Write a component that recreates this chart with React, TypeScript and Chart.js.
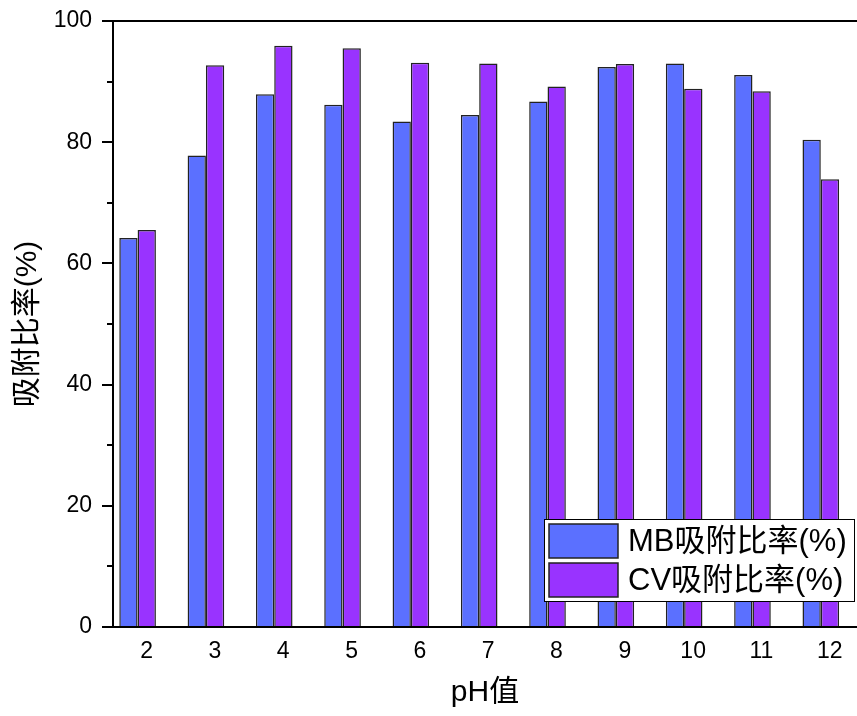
import { useEffect, useRef } from "react";
import { Chart, registerables } from "chart.js";

Chart.register(...registerables);

// pH values tested and adsorption ratios for each dye
const phValues = [2, 3, 4, 5, 6, 7, 8, 9, 10, 11, 12];
const mbRates = [64.2, 77.8, 87.9, 86.2, 83.4, 84.5, 86.7, 92.4, 93.0, 91.1, 80.4];
const cvRates = [65.5, 92.7, 95.9, 95.5, 93.1, 93.0, 89.2, 92.9, 88.8, 88.4, 73.9];
const seriesNames = ["MB吸附比率(%)", "CV吸附比率(%)"];
const seriesColors = ["#5B70FF", "#9933FF"];
const yMajorTicks = [0, 20, 40, 60, 80, 100];
const yMinorTicks = [10, 30, 50, 70, 90];
const xTitle = "pH值";
const yTitle = "吸附比率(%)";

const FONT = "'Liberation Sans', Arial, 'Noto Sans CJK SC', sans-serif";

// Draws the axis frame and outward tick marks on the y axis
const framePlugin = {
  id: "frame",
  afterDraw(chart: any) {
    const { ctx, chartArea } = chart;
    const { left, top, right, bottom } = chartArea;
    const y = chart.scales.y;
    ctx.save();
    ctx.strokeStyle = "#000";
    ctx.lineWidth = 2;
    ctx.beginPath();
    ctx.moveTo(left, bottom + 1);
    ctx.lineTo(left, top);
    ctx.moveTo(left - 1, top);
    ctx.lineTo(right + 2, top);
    ctx.moveTo(left - 1, bottom);
    ctx.lineTo(right + 2, bottom);
    ctx.stroke();
    ctx.beginPath();
    yMajorTicks.forEach((v) => {
      const py = Math.round(y.getPixelForValue(v));
      ctx.moveTo(left - 11, py);
      ctx.lineTo(left, py);
    });
    yMinorTicks.forEach((v) => {
      const py = Math.round(y.getPixelForValue(v));
      ctx.moveTo(left - 6, py);
      ctx.lineTo(left, py);
    });
    ctx.stroke();
    ctx.restore();
  },
};

// Boxed legend in the lower right of the plot
const legendBoxPlugin = {
  id: "legendBox",
  afterDraw(chart: any) {
    const { ctx } = chart;
    const bx = 544;
    const by = 519;
    const bw = 310;
    const bh = 82;
    ctx.save();
    ctx.fillStyle = "#fff";
    ctx.fillRect(bx, by, bw, bh);
    ctx.strokeStyle = "#000";
    ctx.lineWidth = 1;
    ctx.strokeRect(bx + 0.5, by + 0.5, bw, bh);
    seriesNames.forEach((name, i) => {
      const sy = by + 5 + i * 39;
      ctx.fillStyle = seriesColors[i];
      ctx.fillRect(bx + 5, sy, 69, 34);
      ctx.strokeStyle = "#222";
      ctx.lineWidth = 1.5;
      ctx.strokeRect(bx + 5, sy, 69, 34);
      ctx.fillStyle = "#000";
      ctx.font = `31px ${FONT}`;
      ctx.textBaseline = "middle";
      ctx.textAlign = "left";
      ctx.fillText(name, bx + 84, sy + 18);
    });
    ctx.restore();
  },
};

export default function App() {
  const canvasRef = useRef<HTMLCanvasElement | null>(null);

  useEffect(() => {
    const canvas = canvasRef.current;
    if (!canvas) return;
    const chart = new Chart(canvas, {
      type: "bar",
      data: {
        datasets: [
          {
            label: seriesNames[0],
            data: phValues.map((x, i) => ({ x, y: mbRates[i] })),
            backgroundColor: seriesColors[0],
            borderColor: "#222",
            borderWidth: 1.5,
            categoryPercentage: 0.536,
            barPercentage: 1,
          },
          {
            label: seriesNames[1],
            data: phValues.map((x, i) => ({ x, y: cvRates[i] })),
            backgroundColor: seriesColors[1],
            borderColor: "#222",
            borderWidth: 1.5,
            categoryPercentage: 0.536,
            barPercentage: 1,
          },
        ],
      },
      options: {
        animation: false,
        responsive: false,
        maintainAspectRatio: false,
        layout: { padding: { top: 21, left: 0, right: 0, bottom: 0 } },
        plugins: {
          legend: { display: false },
          tooltip: { enabled: false },
        },
        scales: {
          x: {
            type: "linear",
            offset: false,
            min: 1.64,
            max: 12.53,
            grid: { display: false, drawTicks: false },
            border: { display: false },
            afterBuildTicks: (s: any) => {
              s.ticks = phValues.map((v) => ({ value: v }));
            },
            afterFit: (s: any) => {
              s.height = 89;
              s.paddingLeft = 0;
              s.paddingRight = 0;
            },
            ticks: {
              padding: 11,
              labelOffset: 9,
              maxRotation: 0,
              color: "#000",
              font: { family: FONT, size: 23 },
              callback: (v: any) => String(v),
            },
            title: {
              display: true,
              text: xTitle,
              color: "#000",
              font: { family: FONT, size: 30 },
              padding: { top: 0, bottom: 5 },
            },
          },
          y: {
            min: 0,
            max: 100,
            grid: { display: false, drawTicks: false },
            border: { display: false },
            afterBuildTicks: (s: any) => {
              s.ticks = yMajorTicks.map((v) => ({ value: v }));
            },
            afterFit: (s: any) => {
              s.width = 113;
              s.paddingTop = 0;
              s.paddingBottom = 0;
            },
            ticks: {
              padding: 21,
              color: "#000",
              font: { family: FONT, size: 23 },
            },
            title: {
              display: true,
              text: yTitle,
              color: "#000",
              font: { family: FONT, size: 30 },
              padding: { top: 10, bottom: 0 },
            },
          },
        },
      },
      plugins: [framePlugin, legendBoxPlugin],
    } as any);
    return () => chart.destroy();
  }, []);

  return (
    <div style={{ position: "absolute", left: 0, top: 0, width: 857, height: 716, background: "#fff" }}>
      <canvas ref={canvasRef} width={857} height={716} style={{ display: "block" }} />
    </div>
  );
}
